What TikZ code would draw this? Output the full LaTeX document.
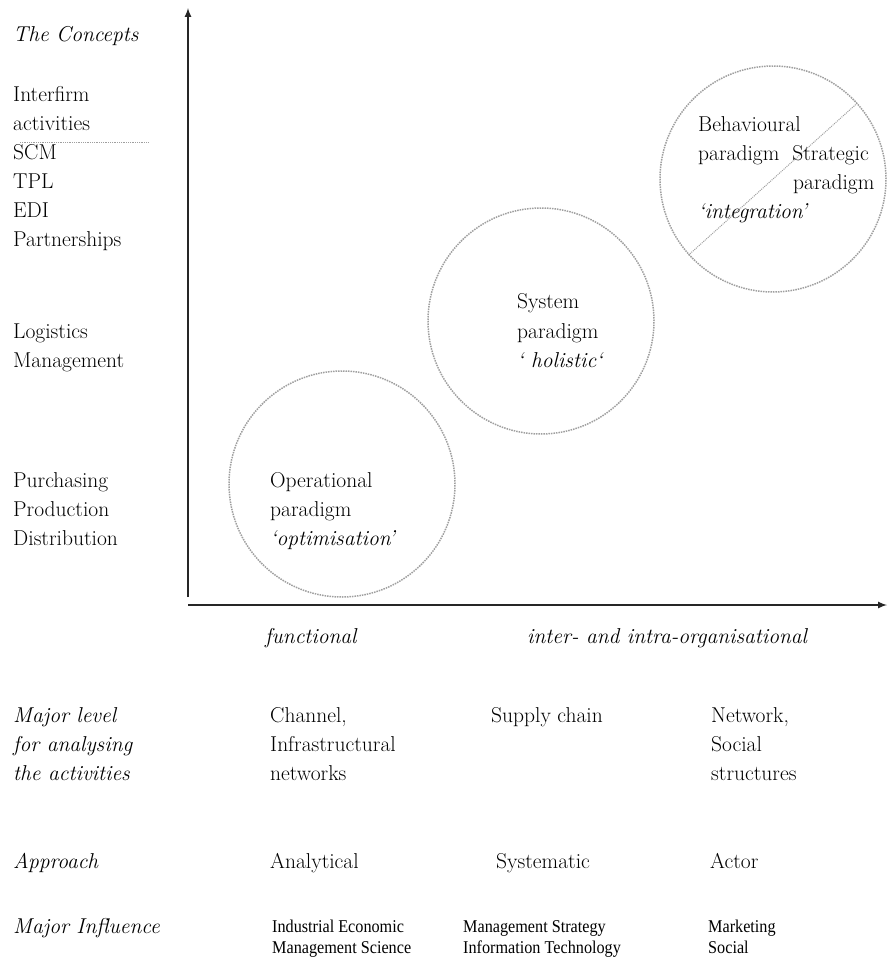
\documentclass[tikz,border=0pt]{standalone}
\usepackage{fontspec}
\newfontfamily\influencefont[FakeStretch=0.9]{Liberation Serif}
\newcommand\conceptsize{\fontsize{21.5}{29}\selectfont}
\newcommand\influencesize{\influencefont\fontsize{18}{21}\selectfont}
\begin{document}
\begin{tikzpicture}[x=1pt,y=-1pt]
        % Colors
        \colorlet{axiscolor}{black!85}
        \colorlet{circlecolor}{gray!75}
        % Styles
        \tikzstyle{axes}=[line width=2pt,draw=axiscolor,->,>=latex]
        \tikzstyle{paradigm circle}=[circle,draw=circlecolor,densely dotted,line width=1.5pt,minimum size=226pt,inner sep=0pt]
        \tikzstyle{plain text}=[anchor=base west,inner sep=0pt,font=\conceptsize]
        \tikzstyle{slanted text}=[plain text,font=\conceptsize\itshape]
        \tikzstyle{influence text}=[anchor=base west,inner sep=0pt,font=\influencesize]
        \useasboundingbox (0,0) rectangle (887,961);
        %The axes
        \coordinate (y start) at (188,597);
        \coordinate (y end) at (188,8);
        \coordinate (x start) at (188,605);
        \coordinate (x end) at (887,605);
        \draw[style=axes] (y start) -- (y end);
        \draw[style=axes] (x start) -- (x end);
        % The paradigms
        \node[paradigm circle] (operational) at (342,484) {};
        \node[paradigm circle] (system) at (541,321) {};
        \node[paradigm circle] (behavioural) at (773,179) {};
        \draw[circlecolor,densely dotted,line width=1pt] (behavioural.222) -- (behavioural.42);
        \node[plain text] (op1) at (270,487) {Operational};
        \node[plain text] (op2) at (270,516) {paradigm};
        \node[slanted text] (op3) at (270,545) {‘optimisation’};
        \node[plain text] (sy1) at (517,308) {System};
        \node[plain text] (sy2) at (517,338) {paradigm};
        \node[slanted text] (sy3) at (517,367) {‘ holistic‘};
        \node[plain text] (be1) at (698,131) {Behavioural};
        \node[plain text] (be2) at (698,160) {paradigm\ \ Strategic};
        \node[plain text] (st2) at (793,189) {paradigm};
        \node[slanted text] (be3) at (698,218) {‘integration’};
        % The concepts
        \node[slanted text] (concepts) at (13,41) {The Concepts};
        \foreach \name/\yy/\txt in {interfirm/101/Interfirm, activities/130/activities, scm/159/SCM,
                tpl/188/TPL, edi/217/EDI, partners/246/Partnerships, logistics/338/Logistics,
                management/367/Management, purchasing/487/Purchasing, production/516/Production,
                distribution/545/Distribution}
            \node[plain text] (\name) at (13,\yy) {\txt};
        \coordinate (sep left) at (20,142);
        \coordinate (sep right) at (148,142);
        \draw[circlecolor,densely dotted,line width=0.8pt] (sep left) -- (sep right);
        % Below the horizontal axis
        \node[slanted text] (functional) at (265,643) {functional};
        \node[slanted text] (interintra) at (527,643) {inter- and intra-organisational};
        \node[slanted text] (level1) at (13,722) {Major level};
        \node[slanted text] (level2) at (13,751) {for analysing};
        \node[slanted text] (level3) at (13,780) {the activities};
        \foreach \name/\xx/\yy/\txt in {channel/270/722/{Channel,}, infra/270/751/Infrastructural,
                networks/270/780/networks, supply/491/722/Supply chain, network/711/722/{Network,},
                social/711/751/Social, structures/711/780/structures}
            \node[plain text] (\name) at (\xx,\yy) {\txt};
        \node[slanted text] (approach) at (13,868) {Approach};
        \node[plain text] (analytical) at (270,868) {Analytical};
        \node[plain text] (systematic) at (496,868) {Systematic};
        \node[plain text] (actor) at (710,868) {Actor};
        \node[slanted text] (influence) at (13,933) {Major Influence};
        \foreach \name/\xx/\yy/\txt in {ind/272/932/Industrial Economic, mgs/272/953/Management Science,
                mst/463/932/Management Strategy, inf/463/953/Information Technology,
                mkt/708/932/Marketing, soc/708/953/Social}
            \node[influence text] (\name) at (\xx,\yy) {\txt};
    \end{tikzpicture}
\end{document}
